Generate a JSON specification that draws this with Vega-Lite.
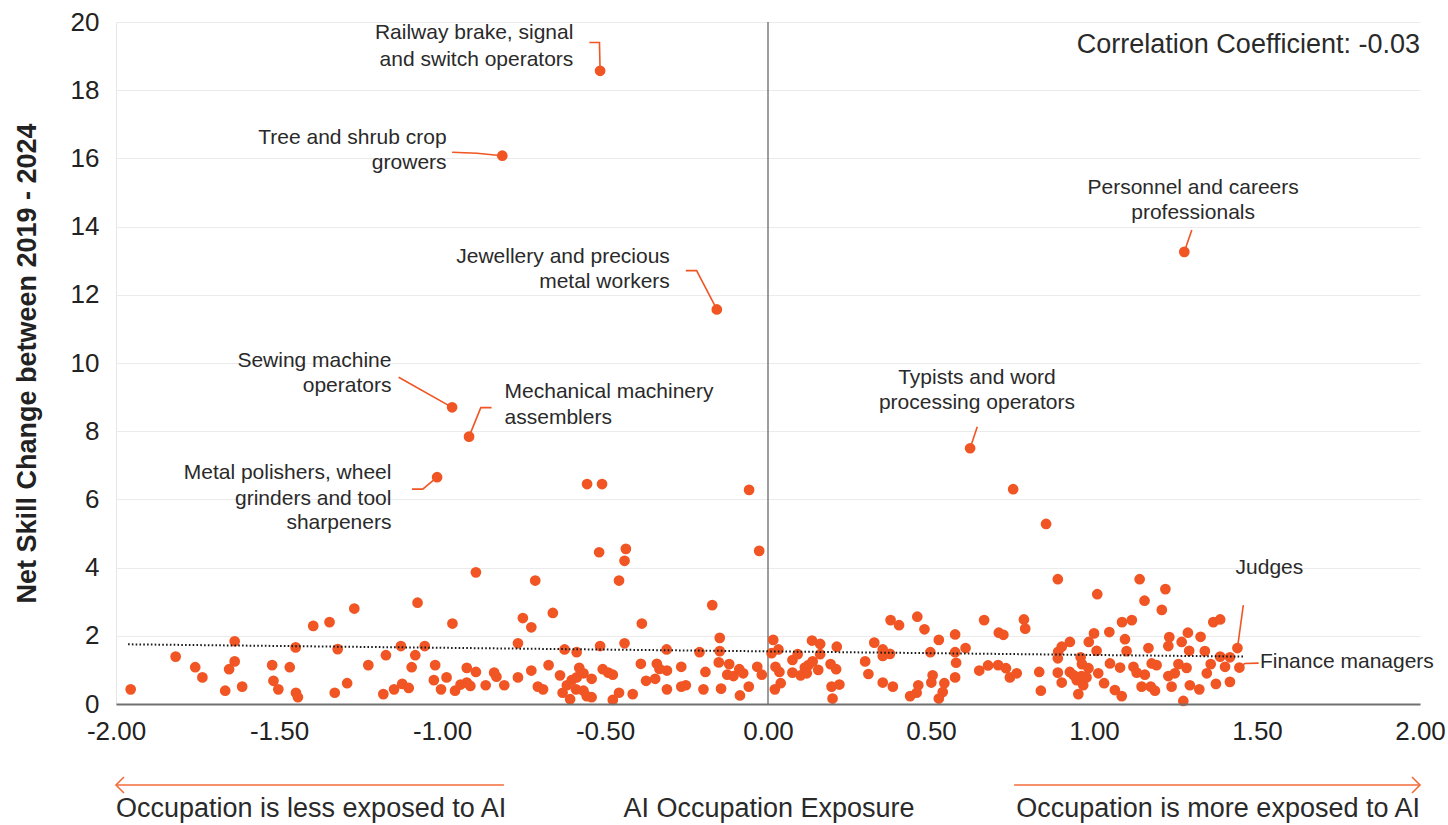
{
  "$schema": "https://vega.github.io/schema/vega-lite/v6.json",
  "width": 1304,
  "height": 682,
  "autosize": {"type": "none"},
  "padding": {"left": 116, "top": 22, "right": 28, "bottom": 121},
  "background": "white",
  "config": {"font": "Liberation Sans", "view": {"stroke": null}},
  "datasets": {
    "pts": [
      {"exposure": -0.515, "skill": 18.57, "occupation": "Railway brake, signal and switch operators"},
      {"exposure": -0.815, "skill": 16.08, "occupation": "Tree and shrub crop growers"},
      {"exposure": -0.157, "skill": 11.57, "occupation": "Jewellery and precious metal workers"},
      {"exposure": 1.277, "skill": 13.26, "occupation": "Personnel and careers professionals"},
      {"exposure": -0.969, "skill": 8.7, "occupation": "Sewing machine operators"},
      {"exposure": -0.917, "skill": 7.84, "occupation": "Mechanical machinery assemblers"},
      {"exposure": -1.015, "skill": 6.65, "occupation": "Metal polishers, wheel grinders and tool sharpeners"},
      {"exposure": 0.62, "skill": 7.5, "occupation": "Typists and word processing operators"},
      {"exposure": 1.44, "skill": 1.64, "occupation": "Judges"},
      {"exposure": 1.446, "skill": 1.07, "occupation": "Finance managers"},
      {"exposure": -0.555, "skill": 6.45},
      {"exposure": -0.509, "skill": 6.45},
      {"exposure": -0.058, "skill": 6.28},
      {"exposure": 0.752, "skill": 6.3},
      {"exposure": 0.853, "skill": 5.28},
      {"exposure": -1.955, "skill": 0.43},
      {"exposure": -1.817, "skill": 1.39},
      {"exposure": -1.757, "skill": 1.08},
      {"exposure": -1.735, "skill": 0.78},
      {"exposure": -1.665, "skill": 0.39},
      {"exposure": -1.613, "skill": 0.51},
      {"exposure": -1.653, "skill": 1.02},
      {"exposure": -1.636, "skill": 1.25},
      {"exposure": -1.636, "skill": 1.84},
      {"exposure": -1.521, "skill": 1.14},
      {"exposure": -1.517, "skill": 0.68},
      {"exposure": -1.502, "skill": 0.43},
      {"exposure": -1.467, "skill": 1.08},
      {"exposure": -1.448, "skill": 0.33},
      {"exposure": -1.442, "skill": 0.2},
      {"exposure": -1.449, "skill": 1.66},
      {"exposure": -1.395, "skill": 2.29},
      {"exposure": -1.345, "skill": 2.4},
      {"exposure": -1.269, "skill": 2.8},
      {"exposure": -1.32, "skill": 1.61},
      {"exposure": -1.329, "skill": 0.33},
      {"exposure": -1.291, "skill": 0.61},
      {"exposure": -1.226, "skill": 1.14},
      {"exposure": -1.172, "skill": 1.43},
      {"exposure": -1.18, "skill": 0.29},
      {"exposure": -1.147, "skill": 0.43},
      {"exposure": -1.122, "skill": 0.59},
      {"exposure": -1.102, "skill": 0.47},
      {"exposure": -1.126, "skill": 1.7},
      {"exposure": -1.075, "skill": 2.97},
      {"exposure": -1.082, "skill": 1.43},
      {"exposure": -1.093, "skill": 1.08},
      {"exposure": -1.053, "skill": 1.7},
      {"exposure": -1.021, "skill": 1.14},
      {"exposure": -1.025, "skill": 0.7},
      {"exposure": -1.003, "skill": 0.43},
      {"exposure": -0.896, "skill": 3.86},
      {"exposure": -0.714, "skill": 3.62},
      {"exposure": -0.968, "skill": 2.36},
      {"exposure": -0.752, "skill": 2.52},
      {"exposure": -0.726, "skill": 2.25},
      {"exposure": -0.66, "skill": 2.67},
      {"exposure": -0.518, "skill": 4.45},
      {"exposure": -0.436, "skill": 4.55},
      {"exposure": -0.44, "skill": 4.2},
      {"exposure": -0.457, "skill": 3.62},
      {"exposure": -0.387, "skill": 2.36},
      {"exposure": -0.171, "skill": 2.9},
      {"exposure": -0.027, "skill": 4.49},
      {"exposure": -0.148, "skill": 1.94},
      {"exposure": -0.148, "skill": 1.55},
      {"exposure": -0.21, "skill": 1.52},
      {"exposure": -0.311, "skill": 1.6},
      {"exposure": -0.44, "skill": 1.78},
      {"exposure": -0.515, "skill": 1.7},
      {"exposure": -0.587, "skill": 1.52},
      {"exposure": -0.624, "skill": 1.6},
      {"exposure": -0.767, "skill": 1.78},
      {"exposure": -0.986, "skill": 0.78},
      {"exposure": -0.96, "skill": 0.39},
      {"exposure": -0.943, "skill": 0.57},
      {"exposure": -0.924, "skill": 0.63},
      {"exposure": -0.913, "skill": 0.53},
      {"exposure": -0.924, "skill": 1.06},
      {"exposure": -0.896, "skill": 0.94},
      {"exposure": -0.866, "skill": 0.55},
      {"exposure": -0.84, "skill": 0.92},
      {"exposure": -0.833, "skill": 0.8},
      {"exposure": -0.809, "skill": 0.55},
      {"exposure": -0.767, "skill": 0.78},
      {"exposure": -0.726, "skill": 0.98},
      {"exposure": -0.706, "skill": 0.51},
      {"exposure": -0.69, "skill": 0.43},
      {"exposure": -0.673, "skill": 1.14},
      {"exposure": -0.638, "skill": 0.84},
      {"exposure": -0.63, "skill": 0.33},
      {"exposure": -0.617, "skill": 0.55},
      {"exposure": -0.607, "skill": 0.14},
      {"exposure": -0.602, "skill": 0.7},
      {"exposure": -0.587, "skill": 0.78},
      {"exposure": -0.579, "skill": 1.06},
      {"exposure": -0.566, "skill": 0.9},
      {"exposure": -0.589, "skill": 0.43},
      {"exposure": -0.566, "skill": 0.39},
      {"exposure": -0.556, "skill": 0.23},
      {"exposure": -0.541, "skill": 0.2},
      {"exposure": -0.541, "skill": 0.74},
      {"exposure": -0.507, "skill": 1.02},
      {"exposure": -0.49, "skill": 0.92},
      {"exposure": -0.476, "skill": 0.86},
      {"exposure": -0.476, "skill": 0.12},
      {"exposure": -0.457, "skill": 0.33},
      {"exposure": -0.415, "skill": 0.29},
      {"exposure": -0.39, "skill": 1.18},
      {"exposure": -0.374, "skill": 0.68},
      {"exposure": -0.346, "skill": 0.74},
      {"exposure": -0.341, "skill": 1.18},
      {"exposure": -0.333, "skill": 1.03},
      {"exposure": -0.31, "skill": 0.98},
      {"exposure": -0.31, "skill": 0.43},
      {"exposure": -0.266, "skill": 1.09},
      {"exposure": -0.266, "skill": 0.51},
      {"exposure": -0.252, "skill": 0.55},
      {"exposure": -0.198, "skill": 0.43},
      {"exposure": -0.192, "skill": 0.94},
      {"exposure": -0.144, "skill": 0.45},
      {"exposure": -0.151, "skill": 1.22},
      {"exposure": -0.119, "skill": 1.17},
      {"exposure": -0.125, "skill": 0.86},
      {"exposure": -0.106, "skill": 0.82},
      {"exposure": -0.088, "skill": 1.02},
      {"exposure": -0.076, "skill": 0.9},
      {"exposure": -0.086, "skill": 0.25},
      {"exposure": -0.059, "skill": 0.51},
      {"exposure": -0.033, "skill": 1.09},
      {"exposure": -0.019, "skill": 0.86},
      {"exposure": 0.016, "skill": 1.88},
      {"exposure": 0.011, "skill": 1.49},
      {"exposure": 0.023, "skill": 1.09},
      {"exposure": 0.032, "skill": 1.6},
      {"exposure": 0.035, "skill": 0.94},
      {"exposure": 0.039, "skill": 0.61},
      {"exposure": 0.021, "skill": 0.43},
      {"exposure": 0.075, "skill": 1.29},
      {"exposure": 0.091, "skill": 1.46},
      {"exposure": 0.075, "skill": 0.92},
      {"exposure": 0.1, "skill": 0.84},
      {"exposure": 0.113, "skill": 1.07},
      {"exposure": 0.124, "skill": 1.14},
      {"exposure": 0.119, "skill": 0.9},
      {"exposure": 0.137, "skill": 1.25},
      {"exposure": 0.135, "skill": 1.86},
      {"exposure": 0.16, "skill": 1.76},
      {"exposure": 0.16, "skill": 1.46},
      {"exposure": 0.154, "skill": 1.0},
      {"exposure": 0.192, "skill": 1.17},
      {"exposure": 0.209, "skill": 1.02},
      {"exposure": 0.211, "skill": 1.68},
      {"exposure": 0.195, "skill": 0.51},
      {"exposure": 0.219, "skill": 0.57},
      {"exposure": 0.198, "skill": 0.16},
      {"exposure": 0.298, "skill": 1.25},
      {"exposure": 0.308, "skill": 0.88},
      {"exposure": 0.326, "skill": 1.8},
      {"exposure": 0.352, "skill": 1.6},
      {"exposure": 0.352, "skill": 1.41},
      {"exposure": 0.374, "skill": 1.47},
      {"exposure": 0.352, "skill": 0.63},
      {"exposure": 0.383, "skill": 0.51},
      {"exposure": 0.376, "skill": 2.46},
      {"exposure": 0.402, "skill": 2.31},
      {"exposure": 0.458, "skill": 2.56},
      {"exposure": 0.48, "skill": 2.19},
      {"exposure": 0.524, "skill": 1.88},
      {"exposure": 0.498, "skill": 1.52},
      {"exposure": 0.574, "skill": 2.04},
      {"exposure": 0.574, "skill": 1.52},
      {"exposure": 0.606, "skill": 1.64},
      {"exposure": 0.577, "skill": 1.21},
      {"exposure": 0.574, "skill": 0.78},
      {"exposure": 0.505, "skill": 0.84},
      {"exposure": 0.501, "skill": 0.63},
      {"exposure": 0.541, "skill": 0.61},
      {"exposure": 0.536, "skill": 0.35},
      {"exposure": 0.524, "skill": 0.16},
      {"exposure": 0.461, "skill": 0.55},
      {"exposure": 0.456, "skill": 0.33},
      {"exposure": 0.436, "skill": 0.23},
      {"exposure": 0.648, "skill": 0.98},
      {"exposure": 0.675, "skill": 1.13},
      {"exposure": 0.663, "skill": 2.46},
      {"exposure": 0.708, "skill": 2.09},
      {"exposure": 0.722, "skill": 2.03},
      {"exposure": 0.706, "skill": 1.14},
      {"exposure": 0.73, "skill": 1.05},
      {"exposure": 0.742, "skill": 0.78},
      {"exposure": 0.763, "skill": 0.9},
      {"exposure": 0.785, "skill": 2.48},
      {"exposure": 0.789, "skill": 2.21},
      {"exposure": 0.832, "skill": 0.94},
      {"exposure": 0.837, "skill": 0.39},
      {"exposure": 0.889, "skill": 3.66},
      {"exposure": 1.01, "skill": 3.22},
      {"exposure": 1.0, "skill": 2.07},
      {"exposure": 0.984, "skill": 1.82},
      {"exposure": 0.926, "skill": 1.82},
      {"exposure": 0.901, "skill": 1.68},
      {"exposure": 0.89, "skill": 1.53},
      {"exposure": 0.889, "skill": 1.34},
      {"exposure": 1.008, "skill": 1.56},
      {"exposure": 0.959, "skill": 1.37},
      {"exposure": 0.963, "skill": 1.17},
      {"exposure": 0.983, "skill": 1.05},
      {"exposure": 0.889, "skill": 0.92},
      {"exposure": 0.901, "skill": 0.63},
      {"exposure": 0.926, "skill": 0.94},
      {"exposure": 0.937, "skill": 0.85},
      {"exposure": 0.947, "skill": 0.7},
      {"exposure": 0.962, "skill": 0.82},
      {"exposure": 0.977, "skill": 0.78},
      {"exposure": 0.967, "skill": 0.55},
      {"exposure": 0.952, "skill": 0.29},
      {"exposure": 1.013, "skill": 0.9},
      {"exposure": 1.14, "skill": 3.66},
      {"exposure": 1.155, "skill": 3.03},
      {"exposure": 1.219, "skill": 3.37},
      {"exposure": 1.208, "skill": 2.76},
      {"exposure": 1.086, "skill": 2.4},
      {"exposure": 1.116, "skill": 2.46},
      {"exposure": 1.047, "skill": 2.11},
      {"exposure": 1.095, "skill": 1.9},
      {"exposure": 1.1, "skill": 1.55},
      {"exposure": 1.167, "skill": 1.64},
      {"exposure": 1.231, "skill": 1.96},
      {"exposure": 1.228, "skill": 1.7},
      {"exposure": 1.269, "skill": 1.82},
      {"exposure": 1.288, "skill": 2.09},
      {"exposure": 1.327, "skill": 1.97},
      {"exposure": 1.292, "skill": 1.56},
      {"exposure": 1.34, "skill": 1.55},
      {"exposure": 1.366, "skill": 2.4},
      {"exposure": 1.387, "skill": 2.48},
      {"exposure": 1.387, "skill": 1.39},
      {"exposure": 1.417, "skill": 1.37},
      {"exposure": 1.402, "skill": 1.09},
      {"exposure": 1.417, "skill": 0.65},
      {"exposure": 1.374, "skill": 0.59},
      {"exposure": 1.346, "skill": 0.9},
      {"exposure": 1.358, "skill": 1.17},
      {"exposure": 1.323, "skill": 0.43},
      {"exposure": 1.274, "skill": 0.09},
      {"exposure": 1.294, "skill": 0.55},
      {"exposure": 1.284, "skill": 1.06},
      {"exposure": 1.259, "skill": 1.17},
      {"exposure": 1.248, "skill": 0.9},
      {"exposure": 1.228, "skill": 0.82},
      {"exposure": 1.238, "skill": 0.51},
      {"exposure": 1.187, "skill": 0.39},
      {"exposure": 1.174, "skill": 0.51},
      {"exposure": 1.192, "skill": 1.14},
      {"exposure": 1.177, "skill": 1.19},
      {"exposure": 1.156, "skill": 0.86},
      {"exposure": 1.121, "skill": 1.09},
      {"exposure": 1.131, "skill": 0.92},
      {"exposure": 1.146, "skill": 0.51},
      {"exposure": 1.085, "skill": 0.23},
      {"exposure": 1.064, "skill": 0.41},
      {"exposure": 1.031, "skill": 0.61},
      {"exposure": 1.049, "skill": 1.19},
      {"exposure": 1.08, "skill": 1.07}
    ],
    "trend": [
      {"exposure": -1.963, "skill": 1.75},
      {"exposure": 1.457, "skill": 1.39}
    ],
    "zeroline": [
      {"exposure": 0, "skill": 0, "skill2": 20}
    ],
    "leaders": [
      {"id": "railway", "seq": 1, "exposure": -0.548, "skill": 19.4},
      {"id": "railway", "seq": 2, "exposure": -0.517, "skill": 19.4},
      {"id": "railway", "seq": 3, "exposure": -0.515, "skill": 18.57},
      {"id": "tree", "seq": 1, "exposure": -0.969, "skill": 16.18},
      {"id": "tree", "seq": 2, "exposure": -0.893, "skill": 16.15},
      {"id": "tree", "seq": 3, "exposure": -0.815, "skill": 16.08},
      {"id": "jewellery", "seq": 1, "exposure": -0.252, "skill": 12.71},
      {"id": "jewellery", "seq": 2, "exposure": -0.219, "skill": 12.71},
      {"id": "jewellery", "seq": 3, "exposure": -0.157, "skill": 11.57},
      {"id": "personnel", "seq": 1, "exposure": 1.3, "skill": 13.9},
      {"id": "personnel", "seq": 2, "exposure": 1.277, "skill": 13.26},
      {"id": "sewing", "seq": 1, "exposure": -1.133, "skill": 9.58},
      {"id": "sewing", "seq": 2, "exposure": -0.969, "skill": 8.7},
      {"id": "mechanical", "seq": 1, "exposure": -0.848, "skill": 8.69},
      {"id": "mechanical", "seq": 2, "exposure": -0.881, "skill": 8.69},
      {"id": "mechanical", "seq": 3, "exposure": -0.917, "skill": 7.84},
      {"id": "metal", "seq": 1, "exposure": -1.092, "skill": 6.3},
      {"id": "metal", "seq": 2, "exposure": -1.059, "skill": 6.3},
      {"id": "metal", "seq": 3, "exposure": -1.015, "skill": 6.65},
      {"id": "typists", "seq": 1, "exposure": 0.642, "skill": 8.13},
      {"id": "typists", "seq": 2, "exposure": 0.62, "skill": 7.5},
      {"id": "judges", "seq": 1, "exposure": 1.458, "skill": 2.9},
      {"id": "judges", "seq": 2, "exposure": 1.44, "skill": 1.64},
      {"id": "finance", "seq": 1, "exposure": 1.446, "skill": 1.07},
      {"id": "finance", "seq": 2, "exposure": 1.463, "skill": 1.19},
      {"id": "finance", "seq": 3, "exposure": 1.505, "skill": 1.2}
    ],
    "labelsEnd": [
      {"label": "Railway brake, signal", "exposure": -0.597, "skill": 19.67},
      {"label": "and switch operators", "exposure": -0.597, "skill": 18.9},
      {"label": "Tree and shrub crop", "exposure": -0.986, "skill": 16.59},
      {"label": "growers", "exposure": -0.986, "skill": 15.87},
      {"label": "Jewellery and precious", "exposure": -0.301, "skill": 13.12},
      {"label": "metal workers", "exposure": -0.301, "skill": 12.38},
      {"label": "Sewing machine", "exposure": -1.155, "skill": 10.07},
      {"label": "operators", "exposure": -1.155, "skill": 9.33},
      {"label": "Metal polishers, wheel", "exposure": -1.155, "skill": 6.77},
      {"label": "grinders and tool", "exposure": -1.155, "skill": 6.0},
      {"label": "sharpeners", "exposure": -1.155, "skill": 5.3}
    ],
    "labelsStart": [
      {"label": "Mechanical machinery", "exposure": -0.808, "skill": 9.14},
      {"label": "assemblers", "exposure": -0.808, "skill": 8.38},
      {"label": "Finance managers", "exposure": 1.509, "skill": 1.24}
    ],
    "labelsMiddle": [
      {"label": "Personnel and careers", "exposure": 1.304, "skill": 15.12},
      {"label": "professionals", "exposure": 1.304, "skill": 14.41},
      {"label": "Typists and word", "exposure": 0.641, "skill": 9.55},
      {"label": "processing operators", "exposure": 0.641, "skill": 8.84},
      {"label": "Judges", "exposure": 1.538, "skill": 3.98}
    ],
    "note": [
      {"label": "Correlation Coefficient: -0.03", "exposure": 2.0, "skill": 19.33}
    ],
    "arrows": [
      {"exposure": -2.0, "exposure2": -0.81, "skill": -2.375},
      {"exposure": 0.755, "exposure2": 2.0, "skill": -2.375}
    ],
    "headLeft": [{"exposure": -2.0, "skill": -2.375}],
    "headRight": [{"exposure": 2.0, "skill": -2.375}],
    "footStart": [{"label": "Occupation is less exposed to AI", "exposure": -2.0, "skill": -3.08}],
    "footMiddle": [{"label": "AI Occupation Exposure", "exposure": 0.003, "skill": -3.08}],
    "footEnd": [{"label": "Occupation is more exposed to AI", "exposure": 2.0, "skill": -3.08}]
  },
  "encoding": {
    "x": {
      "field": "exposure",
      "type": "quantitative",
      "scale": {"domain": [-2, 2], "nice": false, "zero": false},
      "axis": {
        "values": [-2, -1.5, -1, -0.5, 0, 0.5, 1, 1.5, 2],
        "format": ".2f",
        "labelExpr": "replace(datum.label, '−', '-')",
        "title": null,
        "grid": false,
        "ticks": false,
        "domainColor": "#707070",
        "domainWidth": 2,
        "labelFontSize": 26,
        "labelColor": "#222222",
        "labelPadding": 14,
        "labelFlush": false,
        "labelOverlap": false,
        "zindex": 1
      }
    },
    "y": {
      "field": "skill",
      "type": "quantitative",
      "scale": {"domain": [0, 20], "nice": false, "zero": false},
      "axis": {
        "values": [0, 2, 4, 6, 8, 10, 12, 14, 16, 18, 20],
        "title": "Net Skill Change between 2019 - 2024",
        "grid": true,
        "gridColor": "#ebebeb",
        "ticks": false,
        "domainColor": "#e6e6e6",
        "labelFontSize": 26,
        "labelColor": "#222222",
        "labelPadding": 17,
        "titleFontSize": 27,
        "titleFontWeight": "bold",
        "titleColor": "#222222",
        "titlePadding": 29
      }
    }
  },
  "layer": [
    {
      "data": {"name": "zeroline"},
      "mark": {"type": "rule", "color": "#5a5a5a", "strokeWidth": 1.2},
      "encoding": {"y2": {"field": "skill2"}}
    },
    {
      "data": {"name": "leaders"},
      "mark": {"type": "line", "color": "#F05523", "strokeWidth": 1.6},
      "encoding": {"detail": {"field": "id"}, "order": {"field": "seq", "type": "quantitative"}}
    },
    {
      "data": {"name": "arrows"},
      "mark": {"type": "rule", "color": "#F26B3A", "strokeWidth": 1.6},
      "encoding": {"x2": {"field": "exposure2"}}
    },
    {
      "data": {"name": "headLeft"},
      "mark": {"type": "point", "shape": "M1,-1L0,0L1,1", "filled": false, "size": 256, "stroke": "#F26B3A", "strokeWidth": 1.6, "opacity": 1},
      "encoding": {}
    },
    {
      "data": {"name": "headRight"},
      "mark": {"type": "point", "shape": "M-1,-1L0,0L-1,1", "filled": false, "size": 256, "stroke": "#F26B3A", "strokeWidth": 1.6, "opacity": 1},
      "encoding": {}
    },
    {
      "data": {"name": "pts"},
      "mark": {"type": "circle", "color": "#F05523", "size": 115, "opacity": 1}
    },
    {
      "data": {"name": "trend"},
      "mark": {"type": "line", "color": "#1a1a1a", "strokeWidth": 2, "strokeDash": [1.6, 2.2]},
      "encoding": {}
    },
    {
      "data": {"name": "labelsEnd"},
      "mark": {"type": "text", "align": "right", "baseline": "middle", "fontSize": 21, "color": "#2a2a2a"},
      "encoding": {"text": {"field": "label"}}
    },
    {
      "data": {"name": "labelsStart"},
      "mark": {"type": "text", "align": "left", "baseline": "middle", "fontSize": 21, "color": "#2a2a2a"},
      "encoding": {"text": {"field": "label"}}
    },
    {
      "data": {"name": "labelsMiddle"},
      "mark": {"type": "text", "align": "center", "baseline": "middle", "fontSize": 21, "color": "#2a2a2a"},
      "encoding": {"text": {"field": "label"}}
    },
    {
      "data": {"name": "note"},
      "mark": {"type": "text", "align": "right", "baseline": "middle", "fontSize": 27, "color": "#2a2a2a"},
      "encoding": {"text": {"field": "label"}}
    },
    {
      "data": {"name": "footStart"},
      "mark": {"type": "text", "align": "left", "baseline": "middle", "fontSize": 27, "color": "#2a2a2a"},
      "encoding": {"text": {"field": "label"}}
    },
    {
      "data": {"name": "footMiddle"},
      "mark": {"type": "text", "align": "center", "baseline": "middle", "fontSize": 27, "color": "#2a2a2a"},
      "encoding": {"text": {"field": "label"}}
    },
    {
      "data": {"name": "footEnd"},
      "mark": {"type": "text", "align": "right", "baseline": "middle", "fontSize": 27, "color": "#2a2a2a"},
      "encoding": {"text": {"field": "label"}}
    }
  ]
}
